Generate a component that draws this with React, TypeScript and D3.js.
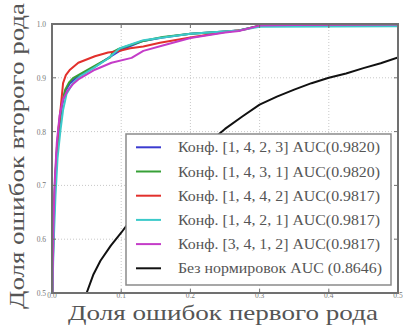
import React from 'react';
import * as d3 from 'd3';

// ROC curves: [false positive rate, true positive rate]
const blueCurve: [number, number][] = [
  [0, 0.45], [0.002, 0.6], [0.004, 0.69], [0.007, 0.76], [0.01, 0.8], [0.014, 0.845],
  [0.019, 0.875], [0.026, 0.89], [0.035, 0.9], [0.05, 0.912], [0.065, 0.923], [0.085, 0.94],
  [0.1, 0.952], [0.13, 0.968], [0.16, 0.975], [0.2, 0.982], [0.25, 0.986], [0.27, 0.988],
  [0.3, 0.997], [0.35, 0.998], [0.4, 0.999], [0.5, 0.999],
];
const greenCurve: [number, number][] = [
  [0, 0.45], [0.002, 0.61], [0.004, 0.7], [0.007, 0.77], [0.01, 0.81], [0.014, 0.85],
  [0.019, 0.878], [0.025, 0.892], [0.031, 0.9], [0.05, 0.914], [0.07, 0.928], [0.084, 0.938],
  [0.088, 0.948], [0.095, 0.953], [0.13, 0.968], [0.16, 0.976], [0.2, 0.982], [0.25, 0.986],
  [0.27, 0.988], [0.3, 0.997], [0.35, 0.998], [0.5, 0.999],
];
const redCurve: [number, number][] = [
  [0, 0.45], [0.002, 0.62], [0.005, 0.72], [0.009, 0.8], [0.013, 0.85], [0.016, 0.89],
  [0.02, 0.905], [0.026, 0.915], [0.038, 0.928], [0.062, 0.94], [0.081, 0.947], [0.098, 0.95],
  [0.113, 0.955], [0.132, 0.958], [0.156, 0.965], [0.2, 0.975], [0.25, 0.985], [0.28, 0.99],
  [0.3, 0.997], [0.35, 0.998], [0.5, 0.999],
];
const cyanCurve: [number, number][] = [
  [0, 0.45], [0.002, 0.58], [0.005, 0.68], [0.008, 0.75], [0.012, 0.8], [0.016, 0.84],
  [0.021, 0.87], [0.03, 0.89], [0.04, 0.902], [0.06, 0.918], [0.08, 0.935], [0.098, 0.955],
  [0.132, 0.97], [0.2, 0.982], [0.27, 0.988], [0.3, 0.995], [0.5, 0.996],
];
const magentaCurve: [number, number][] = [
  [0, 0.45], [0.002, 0.62], [0.004, 0.71], [0.007, 0.78], [0.011, 0.83], [0.016, 0.86],
  [0.022, 0.875], [0.03, 0.888], [0.038, 0.897], [0.062, 0.915], [0.086, 0.928], [0.115, 0.937],
  [0.132, 0.95], [0.16, 0.96], [0.2, 0.974], [0.25, 0.984], [0.27, 0.987], [0.3, 0.997],
  [0.35, 0.998], [0.5, 0.999],
];
const blackCurve: [number, number][] = [
  [0.05, 0.5], [0.06, 0.535], [0.07, 0.56], [0.085, 0.588], [0.1, 0.612], [0.125, 0.655],
  [0.15, 0.69], [0.175, 0.722], [0.2, 0.75], [0.225, 0.778], [0.25, 0.805], [0.275, 0.828],
  [0.3, 0.85], [0.325, 0.865], [0.35, 0.878], [0.375, 0.89], [0.4, 0.9], [0.425, 0.908],
  [0.45, 0.918], [0.475, 0.927], [0.5, 0.938],
];

const seriesLabels = [
  'Конф. [1, 4, 2, 3] AUC(0.9820)',
  'Конф. [1, 4, 3, 1] AUC(0.9820)',
  'Конф. [1, 4, 4, 2] AUC(0.9817)',
  'Конф. [1, 4, 2, 1] AUC(0.9817)',
  'Конф. [3, 4, 1, 2] AUC(0.9817)',
  'Без нормировок AUC (0.8646)',
];
const seriesData = [blueCurve, greenCurve, redCurve, cyanCurve, magentaCurve, blackCurve];
const seriesColors = ['#3b3bd0', '#37a037', '#e2302c', '#3ccaca', '#c43cc8', '#111111'];

const xTicks = [0, 0.1, 0.2, 0.3, 0.4, 0.5];
const yTicks = [0.5, 0.6, 0.7, 0.8, 0.9, 1.0];

const W = 403;
const H = 335;
const plot = { left: 52, right: 398, top: 24, bottom: 293 };
const serif = '"Liberation Serif", "DejaVu Serif", serif';

export default function App() {
  const x = d3.scaleLinear().domain([0, 0.5]).range([plot.left, plot.right]);
  const y = d3.scaleLinear().domain([0.5, 1]).range([plot.bottom, plot.top]);
  const line = d3.line<[number, number]>().x((d) => x(d[0])).y((d) => y(d[1]));

  const legend = { x: 126, y: 134, w: 265, h: 151 };

  return (
    <svg width={W} height={H} style={{ position: 'absolute', left: 0, top: 0, background: '#fff' }}>
      <defs>
        <clipPath id="plotClip">
          <rect x={plot.left} y={plot.top} width={plot.right - plot.left} height={plot.bottom - plot.top} />
        </clipPath>
      </defs>

      {/* grid */}
      {xTicks.map((t) => (
        <line key={'gx' + t} x1={x(t)} x2={x(t)} y1={plot.top} y2={plot.bottom}
          stroke="#c8c8c8" strokeWidth={1} strokeDasharray="1,2" />
      ))}
      {yTicks.map((t) => (
        <line key={'gy' + t} x1={plot.left} x2={plot.right} y1={y(t)} y2={y(t)}
          stroke="#c8c8c8" strokeWidth={1} strokeDasharray="1,2" />
      ))}

      {/* curves */}
      <g clipPath="url(#plotClip)">
        {seriesData.map((d, i) => (
          <path key={i} d={line(d) ?? ''} fill="none" stroke={seriesColors[i]}
            strokeWidth={2} strokeLinejoin="round" />
        ))}
      </g>

      {/* frame and ticks */}
      <rect x={plot.left} y={plot.top} width={plot.right - plot.left} height={plot.bottom - plot.top}
        fill="none" stroke="#707070" strokeWidth={2} />
      {xTicks.map((t) => (
        <g key={'tx' + t}>
          <line x1={x(t)} x2={x(t)} y1={plot.bottom} y2={plot.bottom - 4} stroke="#707070" />
          <line x1={x(t)} x2={x(t)} y1={plot.top} y2={plot.top + 4} stroke="#707070" />
          <text x={x(t)} y={plot.bottom + 5} fontSize={7.5} fill="#777" textAnchor="middle"
            fontFamily={serif}>{t.toFixed(1)}</text>
        </g>
      ))}
      {yTicks.map((t) => (
        <g key={'ty' + t}>
          <line x1={plot.left} x2={plot.left + 4} y1={y(t)} y2={y(t)} stroke="#707070" />
          <line x1={plot.right} x2={plot.right - 4} y1={y(t)} y2={y(t)} stroke="#707070" />
          <text x={plot.left - 6} y={y(t) + 3} fontSize={7.5} fill="#777" textAnchor="end"
            fontFamily={serif}>{t.toFixed(1)}</text>
        </g>
      ))}

      {/* legend */}
      <rect x={legend.x} y={legend.y} width={legend.w} height={legend.h}
        fill="#fff" stroke="#8a8a8a" strokeWidth={1.5} />
      {seriesLabels.map((label, i) => {
        const ly = 147.3 + i * 24.2;
        return (
          <g key={'lg' + i}>
            <line x1={136} x2={161} y1={ly} y2={ly} stroke={seriesColors[i]} strokeWidth={2} />
            <text x={178} y={ly + 5} fontSize={15} fill="#555" fontFamily={serif}
              textLength={i === 5 ? 204 : 202} lengthAdjust="spacingAndGlyphs">{label}</text>
          </g>
        );
      })}

      {/* axis titles */}
      <text x={223} y={320} fontSize={22} fill="#555" textAnchor="middle" fontFamily={serif}
        textLength={310} lengthAdjust="spacingAndGlyphs">Доля ошибок первого рода</text>
      <text transform="translate(24,156) rotate(-90)" fontSize={22} fill="#555" textAnchor="middle"
        fontFamily={serif} textLength={306} lengthAdjust="spacingAndGlyphs">Доля ошибок второго рода</text>
    </svg>
  );
}
